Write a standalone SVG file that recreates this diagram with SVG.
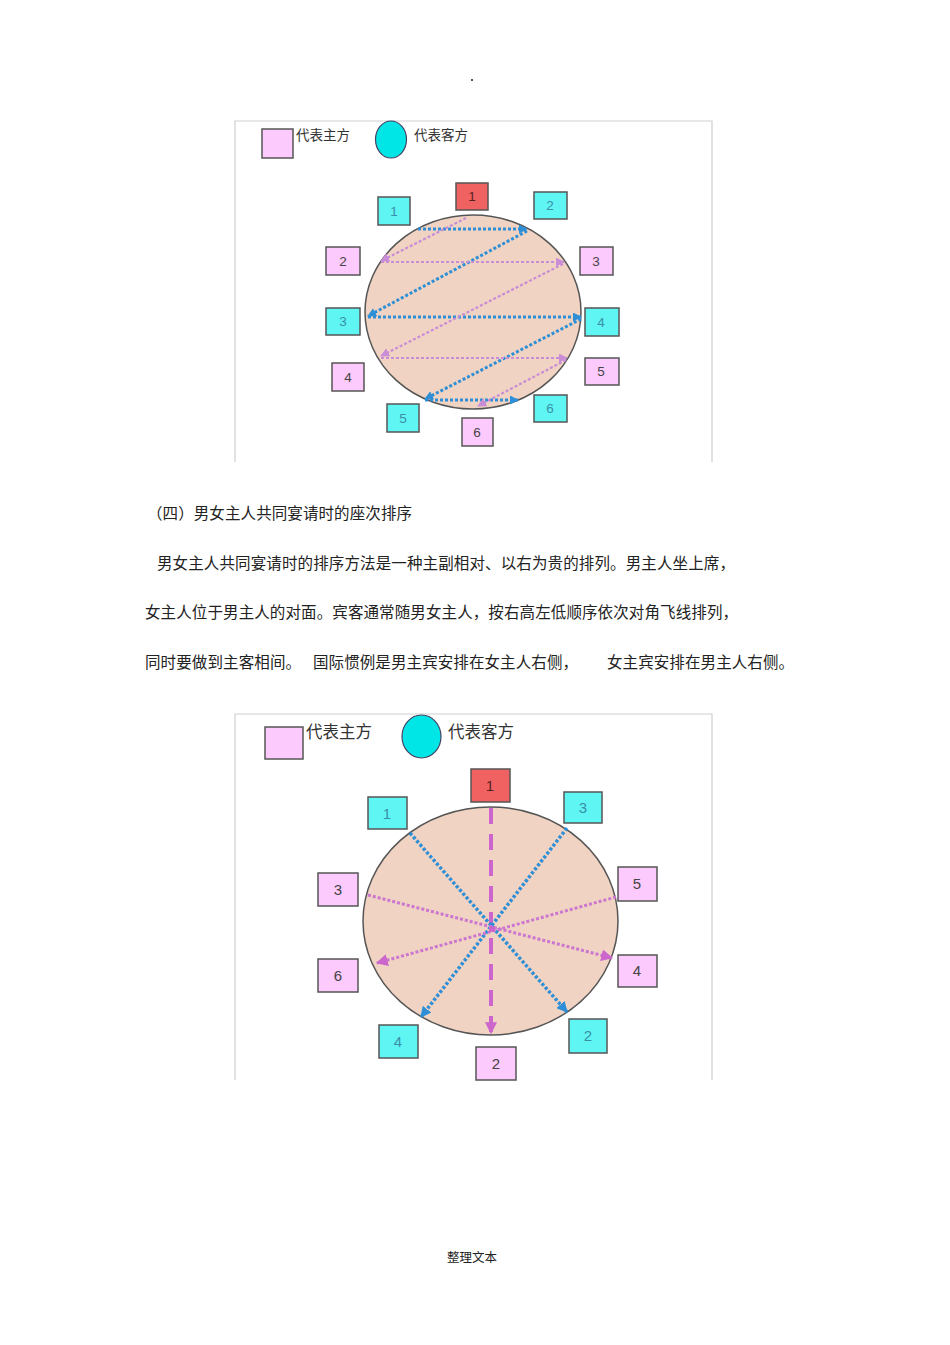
<svg xmlns="http://www.w3.org/2000/svg" width="950" height="1345" viewBox="0 0 950 1345">
<style>
.doc{font-family:"Noto Sans CJK SC","Liberation Serif",serif;fill:#222;font-size:15.5px}
.ft{font-family:"Noto Sans CJK SC","Liberation Serif",serif;fill:#222;font-size:12.5px}
.leg{font-family:"Noto Sans CJK SC","Liberation Sans",sans-serif;fill:#333}
.frame{stroke:#cfcfcf;stroke-width:1.2;fill:none}
.pk{fill:#fccafc;stroke:#555;stroke-width:1.5}
.cy{fill:#5ff5f3;stroke:#555;stroke-width:1.5}
.rd{fill:#f06262;stroke:#555;stroke-width:1.5}
.tbl{fill:#f0d3c2;stroke:#555;stroke-width:1.5}
.num{font-family:"Liberation Sans",Arial,sans-serif;text-anchor:middle}
.nc{fill:#3a90a8}
.np{fill:#444}
.nr{fill:#552222}
.b1{stroke:#2f8fd6;stroke-width:3;stroke-dasharray:3 2;fill:none}
.p1{stroke:#c98cd6;stroke-width:2.2;stroke-dasharray:3 2;fill:none}
.b2{stroke:#2f8fd6;stroke-width:3.5;stroke-dasharray:3 2;fill:none}
.p2{stroke:#cc77d0;stroke-width:3;stroke-dasharray:3 2;fill:none}
.pd{stroke:#cc66cc;stroke-width:4;stroke-dasharray:16 10;fill:none}
</style>
<defs>
<marker id="ab" viewBox="0 0 10 10" refX="9" refY="5" markerWidth="9" markerHeight="9" markerUnits="userSpaceOnUse" orient="auto"><path d="M0,0 L10,5 L0,10 z" fill="#2f8fd6"/></marker>
<marker id="ap" viewBox="0 0 10 10" refX="9" refY="5" markerWidth="9" markerHeight="9" markerUnits="userSpaceOnUse" orient="auto"><path d="M0,0 L10,5 L0,10 z" fill="#c98cd6"/></marker>
<marker id="ab2" viewBox="0 0 10 10" refX="9" refY="5" markerWidth="11" markerHeight="11" markerUnits="userSpaceOnUse" orient="auto"><path d="M0,0 L10,5 L0,10 z" fill="#2f8fd6"/></marker>
<marker id="ap2" viewBox="0 0 10 10" refX="9" refY="5" markerWidth="12" markerHeight="12" markerUnits="userSpaceOnUse" orient="auto"><path d="M0,0 L10,5 L0,10 z" fill="#cc66cc"/></marker>
</defs>

<rect x="0" y="0" width="950" height="1345" fill="#ffffff"/>
<rect x="471" y="79" width="2" height="2" fill="#555"/>

<!-- Top diagram -->
<g id="top-frame"><path class="frame" d="M235,462 V121 H712 V462"/></g>
<g id="top-legend">
<rect class="pk" x="262" y="129" width="31" height="29"/>
<text class="leg" x="296" y="140" font-size="13.5">代表主方</text>
<ellipse cx="391" cy="139.5" rx="15.5" ry="18.5" fill="#00e5e5" stroke="#446" stroke-width="1.2"/>
<text class="leg" x="414" y="140" font-size="13.5">代表客方</text>
</g>
<g id="top-table"><ellipse class="tbl" cx="473" cy="312" rx="108" ry="97"/></g>
<g id="top-connectors">
<line class="b1" x1="418" y1="229" x2="527" y2="229" marker-end="url(#ab)"/>
<line class="b1" x1="527" y1="231" x2="368" y2="316" marker-end="url(#ab)"/>
<line class="b1" x1="368" y1="317" x2="581" y2="317" marker-end="url(#ab)"/>
<line class="b1" x1="581" y1="319" x2="425" y2="399" marker-end="url(#ab)"/>
<line class="b1" x1="425" y1="400" x2="518" y2="400" marker-end="url(#ab)"/>
<line class="p1" x1="466" y1="218" x2="381" y2="261" marker-end="url(#ap)"/>
<line class="p1" x1="381" y1="262" x2="564" y2="262" marker-end="url(#ap)"/>
<line class="p1" x1="563" y1="264" x2="381" y2="356" marker-end="url(#ap)"/>
<line class="p1" x1="381" y1="358" x2="567" y2="358" marker-end="url(#ap)"/>
<line class="p1" x1="566" y1="360" x2="478" y2="406" marker-end="url(#ap)"/>
</g>
<g id="t-r1"><rect class="rd" x="456" y="183" width="32" height="27"/><text class="num nr" x="472" y="201" font-size="13.5">1</text></g>
<g id="t-c1"><rect class="cy" x="378" y="197" width="32" height="28"/><text class="num nc" x="394" y="216" font-size="13.5">1</text></g>
<g id="t-c2"><rect class="cy" x="534" y="192" width="33" height="27"/><text class="num nc" x="550" y="210" font-size="13.5">2</text></g>
<g id="t-p2"><rect class="pk" x="326" y="247" width="34" height="28"/><text class="num np" x="343" y="266" font-size="13.5">2</text></g>
<g id="t-p3"><rect class="pk" x="580" y="247" width="33" height="28"/><text class="num np" x="596" y="266" font-size="13.5">3</text></g>
<g id="t-c3"><rect class="cy" x="326" y="308" width="34" height="27"/><text class="num nc" x="343" y="326" font-size="13.5">3</text></g>
<g id="t-c4"><rect class="cy" x="585" y="308" width="34" height="28"/><text class="num nc" x="601" y="327" font-size="13.5">4</text></g>
<g id="t-p4"><rect class="pk" x="332" y="363" width="32" height="28"/><text class="num np" x="348" y="382" font-size="13.5">4</text></g>
<g id="t-p5"><rect class="pk" x="585" y="358" width="34" height="27"/><text class="num np" x="601" y="376" font-size="13.5">5</text></g>
<g id="t-c5"><rect class="cy" x="387" y="404" width="32" height="28"/><text class="num nc" x="403" y="423" font-size="13.5">5</text></g>
<g id="t-c6"><rect class="cy" x="534" y="395" width="33" height="27"/><text class="num nc" x="550" y="413" font-size="13.5">6</text></g>
<g id="t-p6"><rect class="pk" x="462" y="418" width="31" height="28"/><text class="num np" x="477" y="437" font-size="13.5">6</text></g>

<!-- Text -->
<g id="text">
<text class="doc" x="147" y="519" textLength="265" lengthAdjust="spacing">（四）男女主人共同宴请时的座次排序</text>
<text class="doc" x="157" y="569" textLength="578" lengthAdjust="spacing">男女主人共同宴请时的排序方法是一种主副相对、以右为贵的排列。男主人坐上席，</text>
<text class="doc" x="145" y="618" textLength="593" lengthAdjust="spacing">女主人位于男主人的对面。宾客通常随男女主人，按右高左低顺序依次对角飞线排列，</text>
<text class="doc" x="145" y="668" textLength="156" lengthAdjust="spacing">同时要做到主客相间。</text>
<text class="doc" x="313" y="668" textLength="265" lengthAdjust="spacing">国际惯例是男主宾安排在女主人右侧，</text>
<text class="doc" x="607" y="668" textLength="187" lengthAdjust="spacing">女主宾安排在男主人右侧。</text>
</g>

<!-- Bottom diagram -->
<g id="bot-frame"><path class="frame" d="M235,1080 V714 H712 V1080"/></g>
<g id="bot-legend">
<rect class="pk" x="265" y="727" width="38" height="32"/>
<text class="leg" x="306" y="738" font-size="16.5">代表主方</text>
<ellipse cx="421.5" cy="736.5" rx="19.5" ry="21.5" fill="#00e5e5" stroke="#446" stroke-width="1.2"/>
<text class="leg" x="448" y="738" font-size="16.5">代表客方</text>
</g>
<g id="bot-table"><ellipse class="tbl" cx="490.5" cy="921" rx="127.5" ry="114"/></g>
<g id="bot-connectors">
<line class="pd" x1="491" y1="808" x2="491" y2="1033" marker-end="url(#ap2)"/>
<line class="b2" x1="410" y1="833" x2="567" y2="1012" marker-end="url(#ab2)"/>
<line class="b2" x1="567" y1="828" x2="421" y2="1017" marker-end="url(#ab2)"/>
<line class="p2" x1="368" y1="895" x2="612" y2="958" marker-end="url(#ap2)"/>
<line class="p2" x1="616" y1="897" x2="377" y2="963" marker-end="url(#ap2)"/>
<circle cx="492" cy="929" r="3" fill="#cc66cc"/>
</g>
<g id="b-r1"><rect class="rd" x="471" y="769" width="39" height="33"/><text class="num nr" x="490" y="791" font-size="15">1</text></g>
<g id="b-c1"><rect class="cy" x="368" y="797" width="39" height="32"/><text class="num nc" x="387" y="819" font-size="15">1</text></g>
<g id="b-c3"><rect class="cy" x="564" y="792" width="38" height="31"/><text class="num nc" x="583" y="813" font-size="15">3</text></g>
<g id="b-p3"><rect class="pk" x="318" y="873" width="40" height="33"/><text class="num np" x="338" y="895" font-size="15">3</text></g>
<g id="b-p5"><rect class="pk" x="618" y="867" width="39" height="34"/><text class="num np" x="637" y="889" font-size="15">5</text></g>
<g id="b-p6"><rect class="pk" x="318" y="959" width="40" height="33"/><text class="num np" x="338" y="981" font-size="15">6</text></g>
<g id="b-p4"><rect class="pk" x="618" y="955" width="39" height="32"/><text class="num np" x="637" y="976" font-size="15">4</text></g>
<g id="b-c4"><rect class="cy" x="379" y="1025" width="39" height="33"/><text class="num nc" x="398" y="1047" font-size="15">4</text></g>
<g id="b-c2"><rect class="cy" x="569" y="1019" width="38" height="34"/><text class="num nc" x="588" y="1041" font-size="15">2</text></g>
<g id="b-p2"><rect class="pk" x="476" y="1047" width="40" height="33"/><text class="num np" x="496" y="1069" font-size="15">2</text></g>

<g id="footer"><text class="ft" x="472" y="1262" text-anchor="middle">整理文本</text></g>
</svg>
